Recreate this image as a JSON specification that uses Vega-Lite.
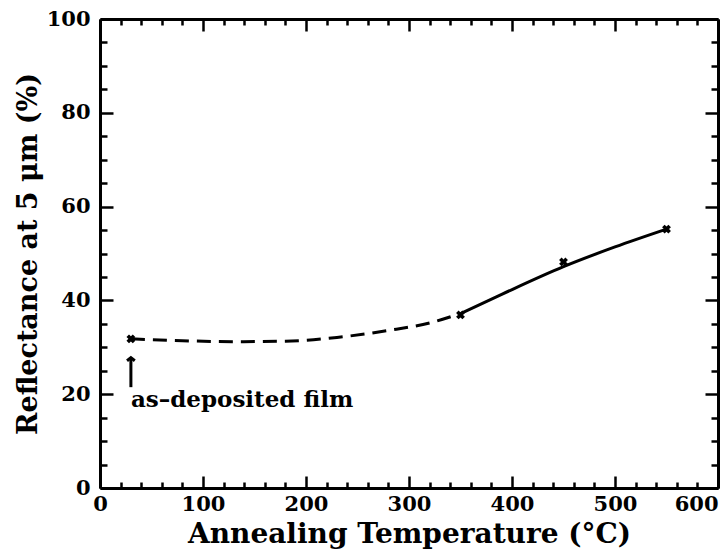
{
  "$schema": "https://vega.github.io/schema/vega-lite/v6.json",
  "width": 618,
  "height": 469,
  "autosize": {"type": "none"},
  "padding": {"left": 100, "top": 19, "right": 9, "bottom": 63},
  "background": "white",
  "config": {
    "view": {"stroke": null},
    "axis": {
      "grid": false,
      "domainColor": "black",
      "domainWidth": 3,
      "tickColor": "black",
      "tickWidth": 2.5,
      "labelFont": "DejaVu Serif",
      "labelFontWeight": "bold",
      "labelFontSize": 21,
      "labelColor": "black",
      "titleFont": "DejaVu Serif",
      "titleFontWeight": "bold",
      "titleColor": "black"
    }
  },
  "datasets": {
    "dashed": [
      {"t": 30, "r": 31.8},
      {"t": 80, "r": 31.4},
      {"t": 130, "r": 31.2},
      {"t": 180, "r": 31.3},
      {"t": 230, "r": 32.1},
      {"t": 280, "r": 33.6},
      {"t": 320, "r": 35.2},
      {"t": 350, "r": 37.2}
    ],
    "solid": [
      {"t": 350, "r": 37.2},
      {"t": 390, "r": 41.3},
      {"t": 450, "r": 47.2},
      {"t": 500, "r": 51.4},
      {"t": 550, "r": 55.2}
    ],
    "points": [
      {"t": 30, "r": 31.8},
      {"t": 350, "r": 36.9},
      {"t": 450, "r": 48.2},
      {"t": 550, "r": 55.2}
    ],
    "note": [
      {"t": 30, "r": 18.8, "label": "as–deposited film"}
    ],
    "arrow": [
      {"t": 30, "r": 21.5, "r2": 27.8}
    ]
  },
  "resolve": {"axis": {"x": "independent", "y": "independent"}},
  "layer": [
    {
      "data": {"name": "dashed"},
      "mark": {"type": "line", "color": "black", "strokeWidth": 3, "strokeDash": [14, 8], "interpolate": "monotone"},
      "encoding": {
        "x": {
          "field": "t", "type": "quantitative",
          "scale": {"domain": [0, 600], "nice": false},
          "axis": {
            "orient": "bottom",
            "values": [0, 20, 40, 60, 80, 100, 120, 140, 160, 180, 200, 220, 240, 260, 280, 300, 320, 340, 360, 380, 400, 420, 440, 460, 480, 500, 520, 540, 560, 580, 600],
            "tickSize": {"condition": {"test": "datum.value % 100 === 0", "value": -12}, "value": -6},
            "labelExpr": "datum.value % 100 === 0 ? datum.label : ''",
            "labelAlign": {"condition": {"test": "datum.value === 600", "value": "right"}, "value": "center"},
            "labelPadding": 17,
            "labelFlush": false,
            "labelOverlap": false,
            "title": "Annealing Temperature (°C)",
            "titlePadding": 0,
            "titleFontSize": 28
          }
        },
        "y": {
          "field": "r", "type": "quantitative",
          "scale": {"domain": [0, 100], "nice": false},
          "axis": {
            "orient": "left",
            "values": [0, 5, 10, 15, 20, 25, 30, 35, 40, 45, 50, 55, 60, 65, 70, 75, 80, 85, 90, 95, 100],
            "tickSize": {"condition": {"test": "datum.value % 20 === 0", "value": -13}, "value": -7},
            "labelExpr": "datum.value % 20 === 0 ? datum.label : ''",
            "labelPadding": 23,
            "labelFlush": false,
            "labelOverlap": false,
            "title": "Reflectance at 5 μm (%)",
            "titlePadding": 4,
            "titleFontSize": 27
          }
        }
      }
    },
    {
      "data": {"name": "solid"},
      "mark": {"type": "line", "color": "black", "strokeWidth": 3, "interpolate": "monotone"},
      "encoding": {
        "x": {"field": "t", "type": "quantitative", "scale": {"domain": [0, 600], "nice": false}, "axis": null},
        "y": {"field": "r", "type": "quantitative", "scale": {"domain": [0, 100], "nice": false}, "axis": null}
      }
    },
    {
      "data": {"name": "points"},
      "mark": {"type": "point", "shape": "cross", "angle": 45, "filled": true, "color": "black", "size": 80, "opacity": 1},
      "encoding": {
        "x": {
          "field": "t", "type": "quantitative",
          "scale": {"domain": [0, 600], "nice": false},
          "axis": {
            "orient": "top",
            "values": [0, 20, 40, 60, 80, 100, 120, 140, 160, 180, 200, 220, 240, 260, 280, 300, 320, 340, 360, 380, 400, 420, 440, 460, 480, 500, 520, 540, 560, 580, 600],
            "tickSize": {"condition": {"test": "datum.value % 100 === 0", "value": -12}, "value": -6},
            "labels": false,
            "title": null
          }
        },
        "y": {
          "field": "r", "type": "quantitative",
          "scale": {"domain": [0, 100], "nice": false},
          "axis": {
            "orient": "right",
            "values": [0, 5, 10, 15, 20, 25, 30, 35, 40, 45, 50, 55, 60, 65, 70, 75, 80, 85, 90, 95, 100],
            "tickSize": {"condition": {"test": "datum.value % 20 === 0", "value": -13}, "value": -7},
            "labels": false,
            "title": null
          }
        }
      }
    },
    {
      "data": {"name": "arrow"},
      "mark": {"type": "rule", "color": "black", "strokeWidth": 3},
      "encoding": {
        "x": {"field": "t", "type": "quantitative", "scale": {"domain": [0, 600], "nice": false}, "axis": null},
        "y": {"field": "r", "type": "quantitative", "scale": {"domain": [0, 100], "nice": false}, "axis": null},
        "y2": {"field": "r2"}
      }
    },
    {
      "data": {"name": "arrow"},
      "mark": {"type": "point", "shape": "M -1 0.8 L 0 0 L 1 0.8", "filled": false, "color": "black", "strokeWidth": 3, "size": 60, "opacity": 1},
      "encoding": {
        "x": {"field": "t", "type": "quantitative", "scale": {"domain": [0, 600], "nice": false}, "axis": null},
        "y": {"field": "r2", "type": "quantitative", "scale": {"domain": [0, 100], "nice": false}, "axis": null}
      }
    },
    {
      "data": {"name": "note"},
      "mark": {"type": "text", "align": "left", "baseline": "middle", "font": "DejaVu Serif", "fontWeight": "bold", "fontSize": 23, "color": "black"},
      "encoding": {
        "x": {"field": "t", "type": "quantitative", "scale": {"domain": [0, 600], "nice": false}, "axis": null},
        "y": {"field": "r", "type": "quantitative", "scale": {"domain": [0, 100], "nice": false}, "axis": null},
        "text": {"field": "label"}
      }
    }
  ]
}
